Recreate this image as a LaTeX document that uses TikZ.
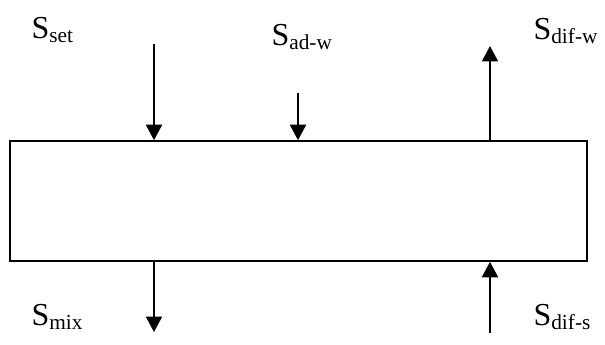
\documentclass[tikz,border=0pt]{standalone}
\usepackage{fontspec}
\setmainfont{Liberation Serif}
\usetikzlibrary{arrows.meta, calc}
\tikzstyle{flow} = [line width=0.75pt, -{Triangle[length=5.8pt,width=6pt]}]
\tikzstyle{lbl} = [anchor=base west, inner sep=0pt, font=\fontsize{12}{14}\selectfont]

\begin{document}
\begin{tikzpicture}[x=0.375pt, y=-0.375pt]
    \useasboundingbox (0,0) rectangle (605,344);

    % Control volume
    \node (cv) [draw, line width=0.6pt, rectangle, inner sep=0pt, minimum width=216.4pt, minimum height=45pt] at (298.5,201) {};

    % Labels
    \node (set) [lbl] at (31,38) {S\textsubscript{set}};
    \node (adw) [lbl] at (271,45) {S\textsubscript{ad-w}};
    \node (difw) [lbl] at (533,39) {S\textsubscript{dif-w}};
    \node (mix) [lbl] at (31,325) {S\textsubscript{mix}};
    \node (difs) [lbl] at (533,325) {S\textsubscript{dif-s}};

    % Free ends
    \coordinate (setin) at (154,44);
    \coordinate (adwin) at (298,93);
    \coordinate (difwout) at (490,46);
    \coordinate (mixout) at (154,332);
    \coordinate (difsin) at (490,333);

    % Connections
    \draw [flow] (setin) -- (setin |- cv.north);
    \draw [flow] (adwin) -- (adwin |- cv.north);
    \draw [flow] (difwout |- cv.north) -- (difwout);
    \draw [flow] (mixout |- cv.south) -- (mixout);
    \draw [flow] (difsin) -- (difsin |- cv.south);
\end{tikzpicture}
\end{document}
